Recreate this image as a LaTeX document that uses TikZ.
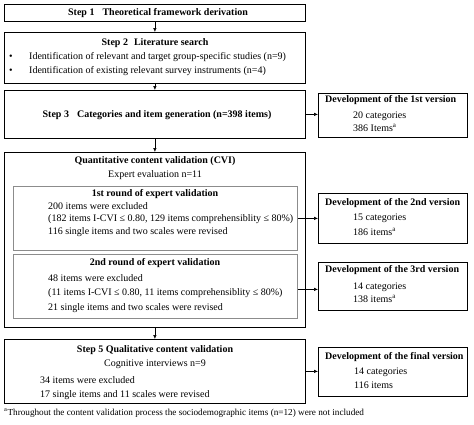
\documentclass[tikz,border=0pt]{standalone}
\usepackage{fontspec}
\setmainfont{Liberation Serif}
\usetikzlibrary{arrows.meta}
\begin{document}
\begin{tikzpicture}[x=1pt,y=-1pt,
  box/.style={draw=black,line width=0.8pt,anchor=north west,inner sep=0pt},
  ibox/.style={draw=black!45,line width=0.8pt,anchor=north west,inner sep=0pt},
  txt/.style={font=\fontsize{10}{11}\selectfont,inner sep=0pt},
  ltxt/.style={txt,anchor=west},
  arr/.style={-{Latex[length=4pt,width=3.5pt]},line width=0.6pt}]
\useasboundingbox (0,0) rectangle (474,424);
% main column boxes
\node[box,minimum width=301pt,minimum height=17pt] (s1) at (4,4) {};
\node[box,minimum width=301pt,minimum height=51pt] (s2) at (4,32) {};
\node[box,minimum width=301pt,minimum height=48pt] (s3) at (4,90) {};
\node[box,minimum width=301pt,minimum height=175pt] (cvi) at (4,152) {};
\node[ibox,minimum width=284pt,minimum height=64pt] (r1) at (13,186) {};
\node[ibox,minimum width=284pt,minimum height=64pt] (r2) at (13,254) {};
\node[box,minimum width=301pt,minimum height=64pt] (s5) at (4,339) {};
% right boxes
\node[box,minimum width=149pt,minimum height=44pt] (v1) at (318,93) {};
\node[box,minimum width=149pt,minimum height=50pt] (v2) at (318,193) {};
\node[box,minimum width=149pt,minimum height=48pt] (v3) at (318,262) {};
\node[box,minimum width=149pt,minimum height=49pt] (v4) at (318,347) {};
% texts
\node[txt] (t1) at (158,13) {\textbf{Step 1\hspace{0.8em}Theoretical framework derivation}};
\node[txt] (t2) at (155,43) {\textbf{Step 2\hspace{0.6em}Literature search}};
\node[ltxt] (b1) at (9,57) {\textbullet};
\node[ltxt] (b1t) at (29,57) {Identification of relevant and target group-specific studies (n=9)};
\node[ltxt] (b2) at (9,71) {\textbullet};
\node[ltxt] (b2t) at (29,71) {Identification of existing relevant survey instruments (n=4)};
\node[txt] (t3) at (157,115) {\textbf{Step 3\hspace{0.8em}Categories and item generation (n=398 items)}};
\node[txt] (tc) at (155,161) {\textbf{Quantitative content validation (CVI)}};
\node[txt] (tc2) at (155,175) {Expert evaluation n=11};
\node[txt] (tr1) at (155,194) {\textbf{1st round of expert validation}};
\node[ltxt] (r1a) at (48,206) {200 items were excluded};
\node[ltxt] (r1b) at (48,219) {(182 items I-CVI ≤ 0.80, 129 items comprehensiblity ≤ 80\%)};
\node[ltxt] (r1c) at (48,232) {116 single items and two scales were revised};
\node[txt] (tr2) at (155,263) {\textbf{2nd round of expert validation}};
\node[ltxt] (r2a) at (48,278) {48 items were excluded};
\node[ltxt] (r2b) at (48,293) {(11 items I-CVI ≤ 0.80, 11 items comprehensiblity ≤ 80\%)};
\node[ltxt] (r2c) at (48,308) {21 single items and two scales were revised};
\node[txt] (t5) at (155,350) {\textbf{Step 5 Qualitative content validation}};
\node[txt] (t52) at (155,364) {Cognitive interviews n=9};
\node[ltxt] (s5a) at (40,380) {34 items were excluded};
\node[ltxt] (s5b) at (40,395) {17 single items and 11 scales were revised};
% right texts
\node[ltxt] (v1t) at (325,100) {\textbf{Development of the 1st version}};
\node[ltxt] (v1a) at (353,116) {20 categories};
\node[ltxt] (v1b) at (353,128) {386 Items\textsuperscript{a}};
\node[ltxt] (v2t) at (325,203) {\textbf{Development of the 2nd version}};
\node[ltxt] (v2a) at (353,218) {15 categories};
\node[ltxt] (v2b) at (353,232) {186 items\textsuperscript{a}};
\node[ltxt] (v3t) at (325,270) {\textbf{Development of the 3rd version}};
\node[ltxt] (v3a) at (353,287) {14 categories};
\node[ltxt] (v3b) at (353,299) {138 items\textsuperscript{a}};
\node[ltxt] (v4t) at (325,357) {\textbf{Development of the final version}};
\node[ltxt] (v4a) at (354,372) {14 categories};
\node[ltxt] (v4b) at (354,385) {116 items};
\node[anchor=west,inner sep=0pt,font=\fontsize{9.2}{10}\selectfont] (fn) at (4,413) {\textsuperscript{a}Throughout the content validation process the sociodemographic items (n=12) were not included};
% connectors
\coordinate (r2o) at ([yshift=-3pt]r2.east);
\draw[arr] (s1.south) -- (s2.north);
\draw[arr] (s2.south) -- (s3.north);
\draw[arr] (s3.south) -- (cvi.north);
\draw[arr] (cvi.south) -- (s5.north);
\draw[arr] (s3.east) -- (v1.west |- s3.east);
\draw[arr] (r1.east) -- (v2.west |- r1.east);
\draw[arr] (r2o) -- (v3.west |- r2o);
\draw[arr] (s5.east) -- (v4.west |- s5.east);
\end{tikzpicture}
\end{document}
